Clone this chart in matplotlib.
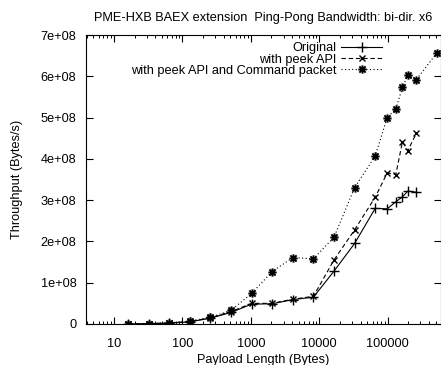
import numpy as np
import matplotlib
matplotlib.use("Agg")
import matplotlib.pyplot as plt
import matplotlib.ticker as mtick
from matplotlib.path import Path

plt.rcParams["font.family"] = ["Liberation Sans", "DejaVu Sans"]

# payload sizes (bytes)
payload = [16, 32, 64, 128, 256, 512, 1024, 2048, 4096, 8192, 16384,
           32768, 65536, 98304, 131072, 163840, 196608, 262144]
payload_cmd = payload + [524288]

# throughput (bytes/s)
original = [0.3e6, 0.8e6, 2e6, 5e6, 14e6, 28e6, 48e6, 49e6, 59e6, 65e6, 128e6,
            195e6, 280e6, 279e6, 296e6, 308e6, 322e6, 319e6]
peek_api = [0.3e6, 1e6, 2.5e6, 6e6, 15e6, 30e6, 50e6, 50e6, 60e6, 67e6, 155e6,
            228e6, 307e6, 366e6, 362e6, 441e6, 420e6, 462e6]
peek_cmd = [0.3e6, 1e6, 3e6, 7e6, 16e6, 33e6, 74e6, 127e6, 161e6, 158e6, 210e6,
            330e6, 407e6, 500e6, 521e6, 573e6, 603e6, 592e6, 657e6]

series_labels = ["Original", "with peek API", "with peek API and Command packet"]

x_ticks = [10, 100, 1000, 10000, 100000]
x_tick_labels = ["10", "100", "1000", "10000", "100000"]
y_ticks = [0, 1e8, 2e8, 3e8, 4e8, 5e8, 6e8, 7e8]
y_tick_labels = ["0", "1e+08", "2e+08", "3e+08", "4e+08", "5e+08", "6e+08", "7e+08"]

FS = 9.2

# gnuplot style "*" point: a plus and a cross on top of each other
d = 0.75
star = Path([(-1, 0), (1, 0), (0, -1), (0, 1), (-d, -d), (d, d), (-d, d), (d, -d)],
            [Path.MOVETO, Path.LINETO] * 4)

fig = plt.figure(figsize=(4.41, 3.65), dpi=100)
ax = fig.add_axes([86 / 441, 41 / 365, 355 / 441, 289 / 365])

lw = 0.8
ax.plot(payload, original, color="black", lw=lw, linestyle="-",
        marker="+", markersize=7, markeredgewidth=1.0, label=series_labels[0])
ax.plot(payload, peek_api, color="black", lw=lw, linestyle=(0, (4, 2.5)),
        marker="x", markersize=5, markeredgewidth=1.0, label=series_labels[1])
ax.plot(payload_cmd, peek_cmd, color="black", lw=lw, linestyle=(0, (1, 2.2)),
        marker=star, markersize=6, markeredgewidth=1.4, label=series_labels[2])

# axes
ax.set_xscale("log")
ax.set_xlim(3.9, 6.0e5)
ax.set_ylim(0, 7e8)

ax.set_xticks(x_ticks)
ax.set_xticklabels(x_tick_labels)
ax.xaxis.set_minor_locator(mtick.LogLocator(base=10, subs=np.arange(2, 10), numticks=20))
ax.xaxis.set_minor_formatter(mtick.NullFormatter())
ax.set_yticks(y_ticks)
ax.set_yticklabels(y_tick_labels)

ax.tick_params(axis="both", which="major", direction="in", length=5, width=0.8,
               top=True, right=True, labelsize=FS, colors="black")
ax.tick_params(axis="x", which="major", pad=10)
ax.tick_params(axis="y", which="major", pad=7)
ax.tick_params(axis="x", which="minor", direction="in", length=2.5, width=0.7,
               top=True, bottom=True)

for s in ax.spines.values():
    s.set_linewidth(0.8)
    s.set_color("black")

ax.set_title("PME-HXB BAEX extension  Ping-Pong Bandwidth: bi-dir. x6",
             fontsize=FS, pad=10)
ax.set_xlabel("Payload Length (Bytes)", fontsize=FS)
ax.set_ylabel("Throughput (Bytes/s)", fontsize=FS)
ax.xaxis.set_label_coords(0.5, -0.103)
ax.yaxis.set_label_coords(-0.178, 0.5)

ax.legend(loc="upper right", bbox_to_anchor=(0.834, 0.975), frameon=False,
          markerfirst=False, fontsize=FS, handlelength=3.2, handletextpad=0.35,
          labelspacing=-0.05, borderpad=0, borderaxespad=0, numpoints=1)

fig.savefig("out.png", dpi=100)
